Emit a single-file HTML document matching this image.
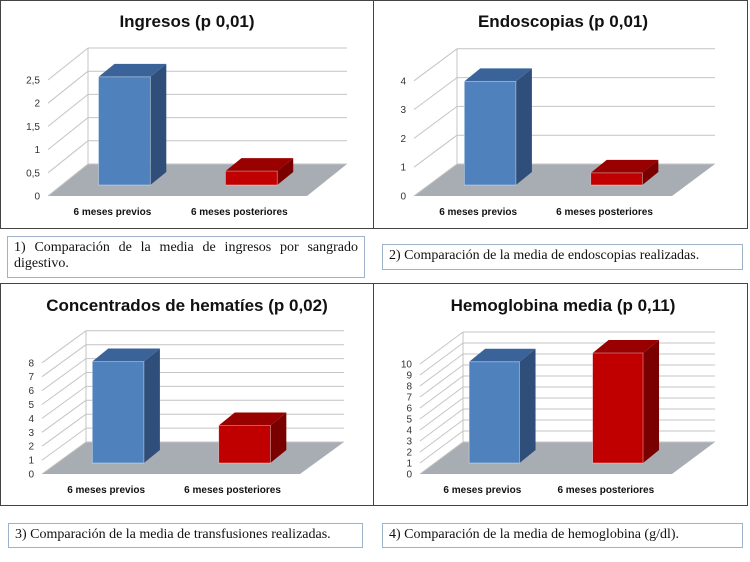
<!DOCTYPE html>
<html><head><meta charset="utf-8"><style>
body{margin:0;width:750px;height:562px;background:#fff;overflow:hidden;font-family:"Liberation Sans",sans-serif}
svg{position:absolute;left:0;top:0}
.cap{position:absolute;border:1px solid #9fb3c8;font-family:"Liberation Serif",serif;font-size:14px;color:#111;padding:3px 6px;box-sizing:border-box;line-height:16px;text-align:justify}
</style></head><body>
<svg id="s" width="750" height="562"></svg>
<div class="cap" style="left:7px;top:236px;width:358px;height:42px">1) Comparación de la media de ingresos por sangrado digestivo.</div>
<div class="cap" style="left:382px;top:244px;width:361px;height:26px">2) Comparación de la media de endoscopias realizadas.</div>
<div class="cap" style="left:8px;top:523px;width:355px;height:25px">3) Comparación de la media de transfusiones realizadas.</div>
<div class="cap" style="left:382px;top:523px;width:361px;height:25px">4) Comparación de la media de hemoglobina (g/dl).</div>
<script>
const categories = ["6 meses previos", "6 meses posteriores"];
const valuesIngresos = [2.33, 0.3];
const valuesEndoscopias = [3.6, 0.42];
const valuesHematies = [7.3, 2.7];
const valuesHemoglobina = [9.2, 10.0];
const ticksIngresos = ["0","0,5","1","1,5","2","2,5"];
const ticksEndoscopias = ["0","1","2","3","4"];
const ticksHematies = ["0","1","2","3","4","5","6","7","8"];
const ticksHemoglobina = ["0","1","2","3","4","5","6","7","8","9","10"];
const tickStepIngresos = 0.5, tickStepEndoscopias = 1, tickStepHematies = 1, tickStepHemoglobina = 1;

const NS="http://www.w3.org/2000/svg";
const svg=document.getElementById('s');
function mk(tag,attrs,parent){const e=document.createElementNS(NS,tag);for(const k in attrs)e.setAttribute(k,attrs[k]);(parent||svg).appendChild(e);return e;}
function pts(a){return a.map(p=>p.join(',')).join(' ');}

let f1=mk('rect',{x:0.5,y:0.5,width:747,height:228,fill:'none',stroke:'#444','stroke-width':1});


let f2=mk('rect',{x:0.5,y:283.5,width:747,height:222,fill:'none',stroke:'#444','stroke-width':1});


let d1=mk('line',{x1:373.5,y1:0,x2:373.5,y2:229,stroke:'#444'});


let d2=mk('line',{x1:373.5,y1:283,x2:373.5,y2:506,stroke:'#444'});



function chart(name,title,titleY,values,ticks,step,g){
  const grp=mk('g',{});
  
  
  const unit=g.unit/step;
  const yv=v=>g.yf-v*unit;
  const t=mk('text',{x:g.tx,y:titleY,'text-anchor':'middle','font-size':17,'font-weight':'bold',fill:'#111'},grp);
  t.textContent=title;
  
  
  const fl=mk('polygon',{points:pts([[g.xl,g.yf],[g.xr,g.yf],[g.xr+g.dx,g.yf+g.dy],[g.xl+g.dx,g.yf+g.dy]]),fill:'#a7adb3'},grp);
  
  
  const n=ticks.length;
  const maxV=(n-1)*step;
  mk('line',{x1:g.xl+g.dx,y1:g.yf+g.dy,x2:g.xl+g.dx,y2:yv(maxV)+g.dy,stroke:'#c4c4c4'},grp);
  ticks.forEach((lab,i)=>{
    const v=i*step, y=yv(v);
    const gl=mk('line',{x1:g.xl+g.dx,y1:y+g.dy,x2:g.xr+g.dx,y2:y+g.dy,stroke:'#c4c4c4'},grp);
    
    
    mk('line',{x1:g.xl,y1:y,x2:g.xl+g.dx,y2:y+g.dy,stroke:'#c4c4c4'},grp);
    const tl=mk('text',{x:g.xl-8,y:y+3.5,'text-anchor':'end','font-size':10,fill:'#333'},grp);
    tl.textContent=lab;
    
    
  });
  const W=g.xr-g.xl, bw=W*0.2, bx=[0.295,0.785];
  const cols=[['#4f81bd','#3a639a','#2f4f7a'],['#c00000','#990000','#7a0000']];
  values.forEach((v,i)=>{
    const cx=g.xl+W*bx[i], x0=cx-bw/2, x1=cx+bw/2, yb=g.yf-11, yt=yb-v*unit;
    const sx=16, sy=-13;
    const c=cols[i];
    const bg=mk('g',{},grp);
    
    
    mk('polygon',{points:pts([[x1,yb],[x1+sx,yb+sy],[x1+sx,yt+sy],[x1,yt]]),fill:c[2]},bg);
    mk('polygon',{points:pts([[x0,yt],[x1,yt],[x1+sx,yt+sy],[x0+sx,yt+sy]]),fill:c[1]},bg);
    mk('rect',{x:x0,y:yt,width:bw,height:yb-yt,fill:c[0],stroke:'rgba(255,255,255,0.5)','stroke-width':0.7},bg);
    const cl=mk('text',{x:cx-12,y:g.yf+19,'text-anchor':'middle','font-size':10,'font-weight':'bold',fill:'#111'},grp);
    cl.textContent=categories[i];
    
    
  });
}
chart('ingresos','Ingresos (p 0,01)',27,valuesIngresos,ticksIngresos,tickStepIngresos,
  {xl:48,xr:307,yf:196,dx:40,dy:-32,unit:23.2,tx:187});
chart('endoscopias','Endoscopias (p 0,01)',27,valuesEndoscopias,ticksEndoscopias,tickStepEndoscopias,
  {xl:414,xr:672,yf:196,dx:43,dy:-32,unit:28.8,tx:563});
chart('hematies','Concentrados de hematíes (p 0,02)',311,valuesHematies,ticksHematies,tickStepHematies,
  {xl:42,xr:300,yf:474,dx:44,dy:-32,unit:13.9,tx:187});
chart('hemoglobina','Hemoglobina media (p 0,11)',311,valuesHemoglobina,ticksHemoglobina,tickStepHemoglobina,
  {xl:420,xr:672,yf:474,dx:43,dy:-32,unit:11,tx:563});
</script>
</body></html>
